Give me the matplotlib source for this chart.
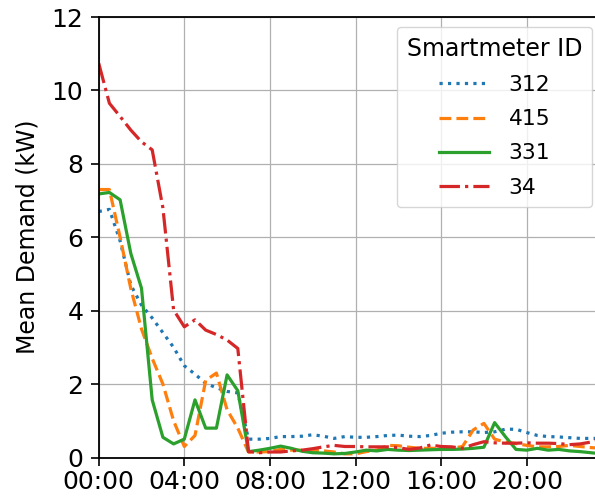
import numpy as np
import matplotlib
matplotlib.use("Agg")
import matplotlib.pyplot as plt

# half-hourly time slots (hours since midnight)
hours = np.arange(48) * 0.5
tick_hours = [0, 4, 8, 12, 16, 20]
tick_labels = ["00:00", "04:00", "08:00", "12:00", "16:00", "20:00"]

ids = ["312", "415", "331", "34"]

m312 = [6.70, 6.76, 5.90, 4.70, 4.15, 3.80, 3.40, 3.00, 2.50, 2.27, 2.02, 1.90,
        1.80, 1.76, 0.50, 0.50, 0.52, 0.57, 0.57, 0.58, 0.62, 0.58, 0.52, 0.57,
        0.55, 0.55, 0.57, 0.60, 0.61, 0.58, 0.57, 0.60, 0.66, 0.69, 0.70, 0.70,
        0.68, 0.70, 0.77, 0.77, 0.68, 0.60, 0.57, 0.56, 0.54, 0.52, 0.52, 0.52]

m415 = [7.30, 7.30, 6.00, 4.60, 3.50, 2.70, 2.00, 1.00, 0.30, 0.60, 2.10, 2.30,
        1.30, 0.80, 0.15, 0.15, 0.16, 0.22, 0.20, 0.20, 0.20, 0.18, 0.15, 0.10,
        0.10, 0.16, 0.20, 0.33, 0.32, 0.28, 0.25, 0.25, 0.25, 0.25, 0.30, 0.75,
        0.93, 0.50, 0.42, 0.38, 0.33, 0.29, 0.29, 0.30, 0.33, 0.30, 0.27, 0.25]

m331 = [7.18, 7.22, 7.02, 5.56, 4.61, 1.57, 0.55, 0.37, 0.50, 1.57, 0.80, 0.80,
        2.25, 1.82, 0.16, 0.20, 0.25, 0.31, 0.25, 0.17, 0.13, 0.12, 0.10, 0.11,
        0.15, 0.20, 0.18, 0.22, 0.20, 0.19, 0.20, 0.21, 0.22, 0.22, 0.23, 0.25,
        0.28, 0.95, 0.57, 0.22, 0.20, 0.25, 0.20, 0.22, 0.18, 0.16, 0.13, 0.10]

m34 = [10.74, 9.65, 9.29, 8.92, 8.60, 8.38, 6.80, 4.02, 3.56, 3.75, 3.47, 3.35,
       3.20, 2.97, 0.16, 0.13, 0.15, 0.15, 0.18, 0.20, 0.24, 0.29, 0.33, 0.30,
       0.30, 0.29, 0.29, 0.29, 0.27, 0.22, 0.26, 0.34, 0.30, 0.29, 0.25, 0.35,
       0.43, 0.40, 0.39, 0.39, 0.40, 0.39, 0.39, 0.38, 0.35, 0.37, 0.42, 0.50]

series = [m312, m415, m331, m34]
styles = [":", "--", "-", "-."]
colors = ["#1f77b4", "#ff7f0e", "#2ca02c", "#d62728"]

fig = plt.figure(figsize=(5.95, 5.01), dpi=100)
ax = fig.add_axes([98.7 / 595, (501 - 457.5) / 501, (601.6 - 98.7) / 595, (457.5 - 17) / 501])

for sid, vals, ls, c in zip(ids, series, styles, colors):
    ax.plot(hours, vals, linestyle=ls, color=c, linewidth=2.3, label=sid)

ax.set_xlim(hours[0], hours[-1])
ax.set_ylim(0, 12)
ax.set_yticks([0, 2, 4, 6, 8, 10, 12])
ax.set_xticks(tick_hours)
ax.set_xticklabels(tick_labels)
ax.grid(True, color="#b0b0b0", linewidth=0.9)
ax.set_axisbelow(True)
ax.tick_params(labelsize=18, length=5.5, width=1.2)
ax.tick_params(axis="y", pad=5.5)
for sp in ax.spines.values():
    sp.set_linewidth(1.3)
ax.set_ylabel("Mean Demand (kW)", fontsize=17, labelpad=9)

leg = ax.legend(title="Smartmeter ID", loc="upper right",
                bbox_to_anchor=(592 / 595, 1 - 27 / 501),
                bbox_transform=fig.transFigure, borderaxespad=0,
                fontsize=15.7, title_fontsize=17, handlelength=2.3,
                handletextpad=0.9, labelspacing=0.65, borderpad=0.45)

fig.savefig("out.png", dpi=100)
